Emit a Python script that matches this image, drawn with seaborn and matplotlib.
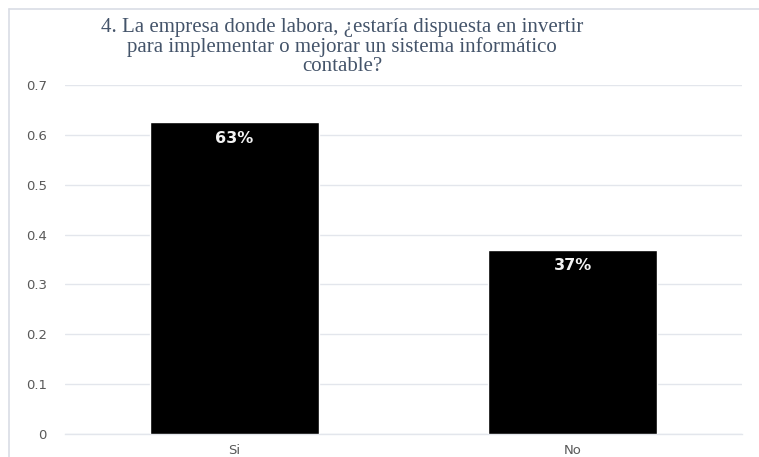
import matplotlib
matplotlib.use("Agg")
import matplotlib.pyplot as plt
from matplotlib.lines import Line2D
import pandas as pd
import seaborn as sns

categories = ["Si", "No"]
values = [0.625, 0.37]
labels = ["63%", "37%"]
title = ("4. La empresa donde labora, ¿estaría dispuesta en invertir\n"
         "para implementar o mejorar un sistema informático\n"
         "contable?")

sns.set_theme(style="white")
plt.rcParams["font.family"] = ["DejaVu Sans"]

df = pd.DataFrame({"cat": categories, "val": values})

fig = plt.figure(figsize=(7.59, 4.57), dpi=100)
ax = fig.add_axes([65 / 759, 23 / 457, 677 / 759, 349 / 457])

sns.barplot(data=df, x="cat", y="val", color="black", width=0.5,
            saturation=1, ax=ax, zorder=3)

ax.set_ylim(0, 0.7)
ax.set_yticks([0, 0.1, 0.2, 0.3, 0.4, 0.5, 0.6, 0.7])
ax.set_yticklabels(["0", "0.1", "0.2", "0.3", "0.4", "0.5", "0.6", "0.7"])
ax.yaxis.grid(True, color="#e3e6ec", linewidth=1.0, zorder=0)
ax.set_axisbelow(True)
for s in ["left", "right", "top"]:
    ax.spines[s].set_visible(False)
ax.spines["bottom"].set_color("#e3e6ec")
ax.spines["bottom"].set_linewidth(1.0)
ax.tick_params(axis="both", length=0, colors="#595959", labelsize=9.5)
ax.tick_params(axis="y", pad=13)
ax.tick_params(axis="x", pad=7)
ax.set_xlabel("")
ax.set_ylabel("")

for p, lab in zip(ax.patches, labels):
    ax.annotate(lab, (p.get_x() + p.get_width() / 2, p.get_height()),
                xytext=(0, -6), textcoords="offset points", ha="center",
                va="top", color="#f2f2f2", fontsize=11.5, fontweight="bold")

fig.text(342 / 759, 1 - 18 / 457, title, ha="center", va="top",
         family=["Liberation Serif"], fontsize=15, color="#44546a",
         linespacing=1.0)

# chart frame
fig.add_artist(Line2D([9 / 759, 1], [1 - 9 / 457] * 2, color="#d9dde5",
                      linewidth=1.2, transform=fig.transFigure))
fig.add_artist(Line2D([9 / 759] * 2, [0, 1 - 9 / 457], color="#d9dde5",
                      linewidth=1.2, transform=fig.transFigure))

fig.savefig("out.png", dpi=100)
